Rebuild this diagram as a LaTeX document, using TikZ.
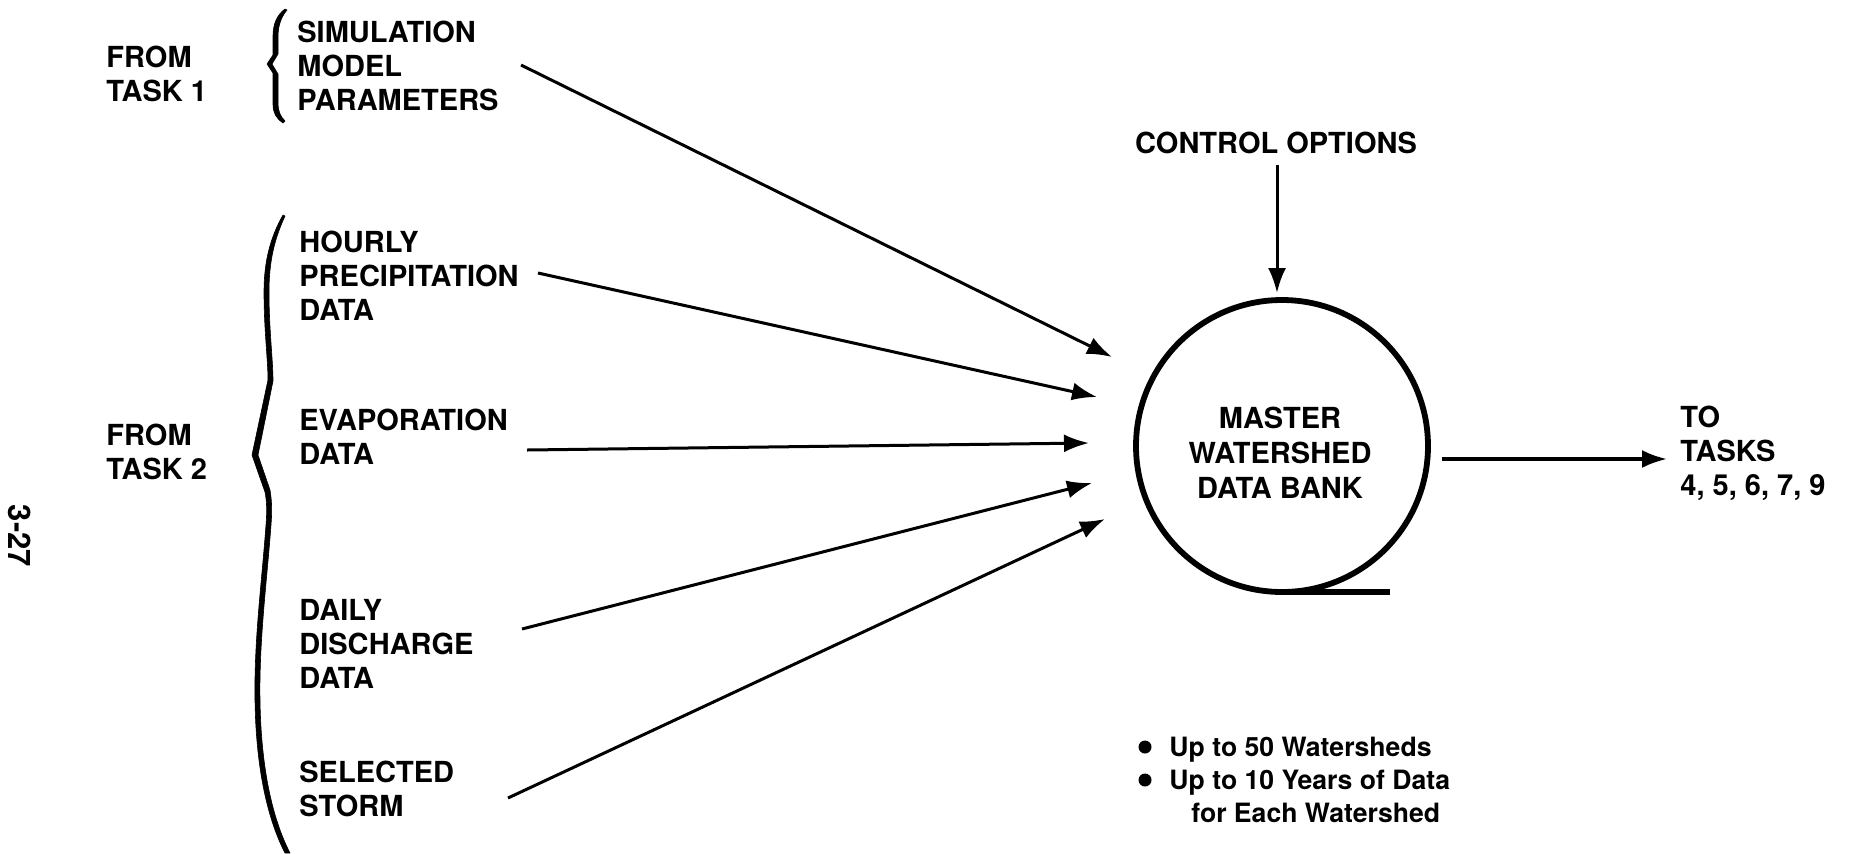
\documentclass[tikz,border=0pt]{standalone}
\usepackage{fontspec}
\setmainfont{TeX Gyre Heros}
\usetikzlibrary{arrows.meta}
\begin{document}
\begin{tikzpicture}[x=0.5pt, y=-0.5pt,
  lbl/.style={font=\fontsize{14.5}{17}\selectfont\bfseries, align=left, anchor=west, inner sep=0pt},
  mid/.style={font=\fontsize{14.5}{17.5}\selectfont\bfseries, align=center, inner sep=0pt},
  note/.style={font=\fontsize{13.3}{16.5}\selectfont\bfseries, align=left, anchor=west, inner sep=0pt},
  arr/.style={line width=1.5pt, -{Latex[length=12.5pt,width=9pt]}},
  bulletdot/.style={circle, fill, inner sep=0pt, minimum size=6.5pt},
  bracefill/.style={fill=black, draw=black, line width=0.3pt, line join=round}]

\useasboundingbox (0,0) rectangle (1854,853);

% page number in the margin
\node[font=\fontsize{15.5}{15.5}\selectfont\bfseries, rotate=-90, inner sep=0pt] (page) at (20,536) {3-27};

% source labels
\node[lbl] (task1) at (106,74) {FROM\\TASK 1};
\node[lbl] (task2) at (106,452) {FROM\\TASK 2};

\node[lbl] (sim)   at (297,66)  {SIMULATION\\MODEL\\PARAMETERS};
\node[lbl] (hour)  at (299,276) {HOURLY\\PRECIPITATION\\DATA};
\node[lbl] (evap)  at (299,437) {EVAPORATION\\DATA};
\node[lbl] (daily) at (299,644) {DAILY\\DISCHARGE\\DATA};
\node[lbl] (storm) at (299,789) {SELECTED\\STORM};

% braces grouping the inputs
\path[bracefill] (285,9) .. controls (277,15) and (273,24) .. (273,36) -- (273,55) -- (267,64) -- (273,73)
  -- (273,104) .. controls (273,113) and (276,118) .. (283,123)
  -- (285,121) .. controls (280,116) and (278,111) .. (278,102) -- (278,74) -- (272,64) -- (278,54)
  -- (278,37) .. controls (278,26) and (281,17) .. (287,10) -- cycle;

\path[bracefill] (283,215) .. controls (270,238) and (264,262) .. (264,292)
  .. controls (264,330) and (268,360) .. (268,380)
  -- (252,455) -- (265,492)
  .. controls (267,502) and (267,512) .. (266,525)
  .. controls (262,580) and (254,640) .. (255,700)
  .. controls (256,770) and (268,820) .. (285,853)
  -- (290,853)
  .. controls (273,820) and (261,770) .. (260,700)
  .. controls (259,640) and (267,580) .. (271,525)
  .. controls (272,512) and (272,502) .. (270,490)
  -- (258,455) -- (273,381)
  .. controls (273,360) and (269,330) .. (269,292)
  .. controls (269,262) and (274,240) .. (285,216) -- cycle;

% data bank
\node[circle, draw, line width=2.9pt, outer sep=0pt, minimum size=146pt, inner sep=0pt] (bank) at (1282,446) {};
\node[mid] (banktxt) at (1280,453) {MASTER\\WATERSHED\\DATA BANK};
\draw[line width=2.9pt] (bank.south) -- ++(108,0) coordinate (tape);

\node[mid] (ctrl) at (1276,143) {CONTROL OPTIONS};
\node[lbl] (out) at (1680,453) {TO\\TASKS\\4, 5, 6, 7, 9};

% connector ends
\coordinate (s1) at (521,65);   \coordinate (t1) at (1112,357);
\coordinate (s2) at (538,273);  \coordinate (t2) at (1097,397);
\coordinate (s3) at (527,450);  \coordinate (t3) at (1089,443);
\coordinate (s4) at (522,629);  \coordinate (t4) at (1092,483);
\coordinate (s5) at (508,798);  \coordinate (t5) at (1105,519);
\coordinate (c0) at (1277,165); \coordinate (c1) at (1277,293);
\coordinate (o0) at (1442,459); \coordinate (o1) at (1667,459);

\draw[arr] (s1) -- (t1);
\draw[arr] (s2) -- (t2);
\draw[arr] (s3) -- (t3);
\draw[arr] (s4) -- (t4);
\draw[arr] (s5) -- (t5);
\draw[arr] (c0) -- (c1);
\draw[arr, line width=1.7pt] (o0) -- (o1);

% capacity notes
\node[bulletdot] (b1) at (1145,747) {};
\node[bulletdot] (b2) at (1145,780) {};
\node[note] (notes) at (1169,780) {Up to 50 Watersheds\\Up to 10 Years of Data\\\hspace*{11pt}for Each Watershed};
\end{tikzpicture}
\end{document}
